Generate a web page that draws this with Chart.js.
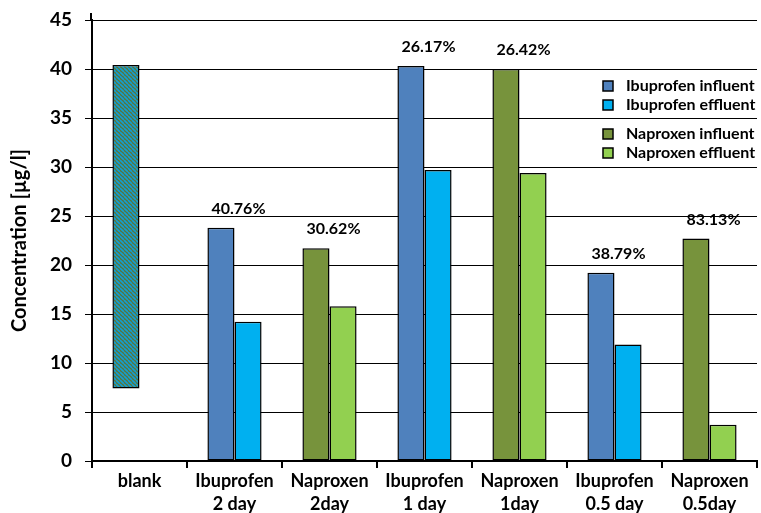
<!DOCTYPE html>
<html>
<head>
<meta charset="utf-8">
<script src="https://cdn.jsdelivr.net/npm/chart.js@4"></script>
<style>
    html, body {margin: 0; padding: 0; background: #fff;}
    #wrap {width: 761px; height: 513px;}
</style>
</head>
<body>
<div id="wrap"><canvas id="chart"></canvas></div>
<script>
const categories = [['blank'], ['Ibuprofen', '2 day'], ['Naproxen', '2day'], ['Ibuprofen', '1 day'],
    ['Naproxen', '1day'], ['Ibuprofen', '0.5 day'], ['Naproxen', '0.5day']];

const blankRange  = [[7.4, 40.4], null, null, null, null, null, null];
const ibuInfluent = [null, 23.8, null, 40.3, null, 19.2, null];
const ibuEffluent = [null, 14.2, null, 29.7, null, 11.9, null];
const napInfluent = [null, null, 21.7, null, 40.0, null, 22.7];
const napEffluent = [null, null, 15.8, null, 29.4, null, 3.7];
const removal = [null, '40.76%', '30.62%', '26.17%', '26.42%', '38.79%', '83.13%'];

const legendLabels = [['Ibuprofen influent', 'Ibuprofen effluent'], ['Naproxen influent', 'Naproxen effluent']];

const colors = {
    ibuIn: '#4f81bd',
    ibuEff: '#00b0f0',
    napIn: '#77933c',
    napEff: '#92d050'
};
const font = 'Lato, "DejaVu Sans", sans-serif';

function stripes() {
    const c = document.createElement('canvas');
    c.width = 4; c.height = 4;
    const g = c.getContext('2d');
    g.fillStyle = '#5a7537';
    g.fillRect(0, 0, 4, 4);
    g.strokeStyle = '#129ed4';
    g.lineWidth = 1.6;
    g.beginPath();
    for (let k = -4; k <= 4; k += 4) {
        g.moveTo(k, 0);
        g.lineTo(k + 4, 4);
    }
    g.stroke();
    return g.createPattern(c, 'repeat');
}

// percent labels + legend drawn inside the plot
const overlay = {
    id: 'overlay',
    afterDatasetsDraw(chart) {
        const ctx = chart.ctx;
        const xs = chart.scales.x, ys = chart.scales.y, area = chart.chartArea;
        ctx.save();

        // axis line runs a little past the top tick
        ctx.strokeStyle = '#000';
        ctx.lineWidth = 2;
        ctx.beginPath();
        ctx.moveTo(area.left - 1, area.top);
        ctx.lineTo(area.left - 1, area.top - 7);
        ctx.stroke();

        ctx.fillStyle = '#000';
        ctx.font = 'bold 16px ' + font;
        ctx.textAlign = 'center';
        ctx.textBaseline = 'middle';
        removal.forEach((txt, i) => {
            if (!txt) return;
            const top = Math.max(ibuInfluent[i] || 0, napInfluent[i] || 0);
            ctx.fillText(txt, xs.getPixelForValue(i) + 4, ys.getPixelForValue(top) - 19);
        });

        const swatches = [[colors.ibuIn, colors.ibuEff], [colors.napIn, colors.napEff]];
        const boxes = [[area.top + 52, area.top + 97], [area.top + 101, area.top + 146]];
        const rows = [[area.top + 66, area.top + 85], [area.top + 114, area.top + 133]];
        const x0 = area.right - 154;
        ctx.textAlign = 'left';
        legendLabels.forEach((grp, g) => {
            ctx.fillStyle = '#fff';
            ctx.fillRect(x0 - 12, boxes[g][0], area.right - x0 + 12, boxes[g][1] - boxes[g][0]);
            grp.forEach((lbl, r) => {
                const y = rows[g][r];
                ctx.fillStyle = swatches[g][r];
                ctx.fillRect(x0, y - 5, 10, 10);
                ctx.strokeStyle = '#000';
                ctx.lineWidth = 1.5;
                ctx.strokeRect(x0, y - 5, 10, 10);
                ctx.fillStyle = '#000';
                ctx.fillText(lbl, x0 + 23, y);
            });
        });
        ctx.restore();
    }
};

const bar = (data, color, stack) => ({
    data: data,
    backgroundColor: color,
    borderColor: '#000',
    borderWidth: 1.5,
    borderSkipped: false,
    stack: stack,
    barPercentage: 1,
    categoryPercentage: 0.57
});

new Chart(document.getElementById('chart').getContext('2d'), {
    type: 'bar',
    data: {
        labels: categories,
        datasets: [
            bar(blankRange, stripes(), 'in'),
            bar(ibuInfluent, colors.ibuIn, 'in'),
            bar(napInfluent, colors.napIn, 'in'),
            bar(ibuEffluent, colors.ibuEff, 'eff'),
            bar(napEffluent, colors.napEff, 'eff')
        ]
    },
    options: {
        responsive: true,
        maintainAspectRatio: false,
        animation: false,
        layout: {padding: {top: 0, right: 4, left: 0, bottom: 0}},
        plugins: {legend: {display: false}, tooltip: {enabled: false}},
        scales: {
            x: {
                stacked: true,
                afterFit: s => { s.height = 52; },
                grid: {offset: true, drawOnChartArea: false, color: '#000', lineWidth: 2, tickLength: 7},
                border: {color: '#000', width: 2},
                ticks: {color: '#000', font: {family: font, size: 18, weight: 'bold', lineHeight: 1.3}, padding: 1, maxRotation: 0}
            },
            y: {
                stacked: false,
                min: 0,
                max: 45,
                afterFit: s => { s.width = 92; s.paddingTop = 20; },
                grid: {color: '#000', lineWidth: 1, tickLength: 7},
                border: {color: '#000', width: 2},
                ticks: {stepSize: 5, color: '#000', font: {family: font, size: 19, weight: 'bold'}, padding: 13},
                title: {display: true, text: 'Concentration [µg/l]', color: '#000',
                    font: {family: font, size: 20, weight: 'bold'}, padding: {top: 8, bottom: 0}}
            }
        }
    },
    plugins: [overlay]
});
</script>
</body>
</html>
